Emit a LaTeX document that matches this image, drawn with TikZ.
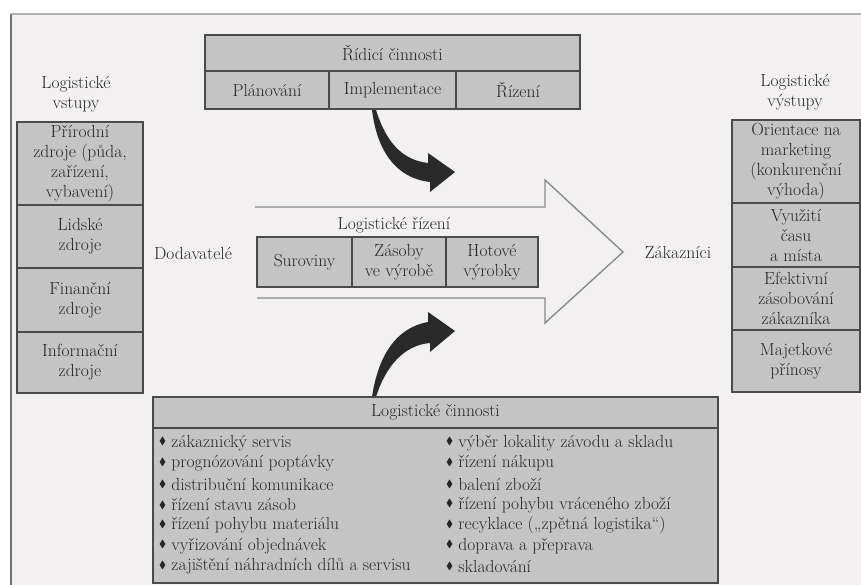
\documentclass[tikz,border=0pt]{standalone}
\usepackage{amssymb}
\definecolor{pagec}{HTML}{F2F0F0}
\definecolor{boxc}{HTML}{C4C4C4}
\definecolor{bordc}{HTML}{4A4A4A}
\definecolor{textc}{HTML}{262626}
\definecolor{arrc}{HTML}{2A2A2A}
\definecolor{hollowc}{HTML}{8A8A8A}
\newcommand{\mytxt}{\fontsize{17.5}{20}\selectfont}
\newcommand{\mybul}{\raisebox{0.35ex}{\scalebox{0.6}{$\blacklozenge$}}\hspace{0.3em}}
\begin{document}
\begin{tikzpicture}[x=1pt,y=-1pt,
  cell/.style={draw=bordc, fill=boxc, line width=1.3pt, inner sep=0pt, align=center, font=\mytxt, text=textc},
  lbl/.style={align=center, font=\mytxt, text=textc, inner sep=0pt},
  item/.style={anchor=west, font=\mytxt, text=textc, inner sep=0pt},
  curvarr/.style={fill=arrc, draw=none},
  hollow/.style={draw=hollowc, line width=1.4pt, line join=miter}]
\useasboundingbox (0,0) rectangle (861,585);
% page
\fill[white] (0,0) rectangle (861,585);
\fill[pagec] (11,14) rectangle (861,585);
\draw[color=black!30, line width=1.2pt] (11,14) -- (861,14);
\draw[color=black!55, line width=2pt] (11,14) -- (11,585);

% left column
\node[lbl] (inhdr) at (76,94) {Logistické\\vstupy};
\node[cell, minimum width=126pt, minimum height=83pt] (in1) at (80,163.5) {Přírodní\\zdroje (půda,\\zařízení,\\vybavení)};
\node[cell, minimum width=126pt, minimum height=63pt] (in2) at (80,236.5) {Lidské\\zdroje};
\node[cell, minimum width=126pt, minimum height=64pt] (in3) at (80,300) {Finanční\\zdroje};
\node[cell, minimum width=126pt, minimum height=61pt] (in4) at (80,362.5) {Informační\\zdroje};

% right column
\node[lbl] (outhdr) at (795,92) {Logistické\\výstupy};
\node[cell, minimum width=128pt, minimum height=83pt] (out1) at (796,161.5) {Orientace na\\marketing\\(konkurenční\\výhoda)};
\node[cell, minimum width=128pt, minimum height=64pt] (out2) at (796,235) {Využití\\času\\a místa};
\node[cell, minimum width=128pt, minimum height=63pt] (out3) at (796,298.5) {Efektivní\\zásobování\\zákazníka};
\node[cell, minimum width=128pt, minimum height=62pt] (out4) at (796,361) {Majetkové\\přínosy};

% top box
\node[cell, minimum width=375pt, minimum height=36pt] (rc) at (392.5,53) {Řídicí činnosti};
\node[cell, minimum width=124pt, minimum height=38pt] (plan) at (267,90) {Plánování};
\node[cell, minimum width=127pt, minimum height=38pt] (impl) at (392.5,90) {Implementace};
\node[cell, minimum width=124pt, minimum height=38pt] (riz) at (518,90) {Řízení};

% hollow arrow
\draw[hollow] (255,207) -- (545,207) -- (545,180) -- (623,252) -- (545,323) -- (545,298) -- (257,298);

% middle
\node[lbl] (lrhdr) at (394,225) {Logistické řízení};
\node[cell, minimum width=95pt, minimum height=50pt] (sur) at (304.5,262) {Suroviny};
\node[cell, minimum width=94pt, minimum height=50pt] (zas) at (399,262) {Zásoby\\ve výrobě};
\node[cell, minimum width=92pt, minimum height=50pt] (hot) at (492,262) {Hotové\\výrobky};
\node[lbl] (dod) at (193,253) {Dodavatelé};
\node[lbl] (zak) at (678,252) {Zákazníci};

% curved arrows
\coordinate (a1s) at (374,110);
\coordinate (a1t) at (455,172);
\fill[curvarr] (372,110) .. controls (377,150) and (395,178) .. (430,182) -- (430,192) -- (a1t) -- (428,153) -- (428,163) .. controls (402,160) and (386,142) .. (376,110) -- cycle;
\coordinate (a2s) at (374,397);
\coordinate (a2t) at (455,331);
\fill[curvarr] (372,397) .. controls (378,357) and (395,328) .. (428,322) -- (428,312) -- (a2t) -- (430,352) -- (430,343) .. controls (405,345) and (386,365) .. (376,397) -- cycle;

% bottom box
\node[cell, minimum width=565pt, minimum height=31pt] (lchdr) at (435.5,412.5) {Logistické činnosti};
\node[cell, minimum width=565pt, minimum height=155pt] (lcbody) at (435.5,505.5) {};
\foreach \t [count=\i from 0] in {zákaznický servis, prognózování poptávky, distribuční komunikace, řízení stavu zásob, řízení pohybu materiálu, vyřizování objednávek, zajištění náhradních dílů a servisu}
  \node[item] (l\i) at (159,443+20.6*\i) {\mybul\t};
\foreach \t [count=\i from 0] in {výběr lokality závodu a skladu, řízení nákupu, balení zboží, řízení pohybu vráceného zboží, {recyklace („zpětná logistika“)}, doprava a přeprava, skladování}
  \node[item] (r\i) at (446,443+20.6*\i) {\mybul\t};
\end{tikzpicture}
\end{document}
